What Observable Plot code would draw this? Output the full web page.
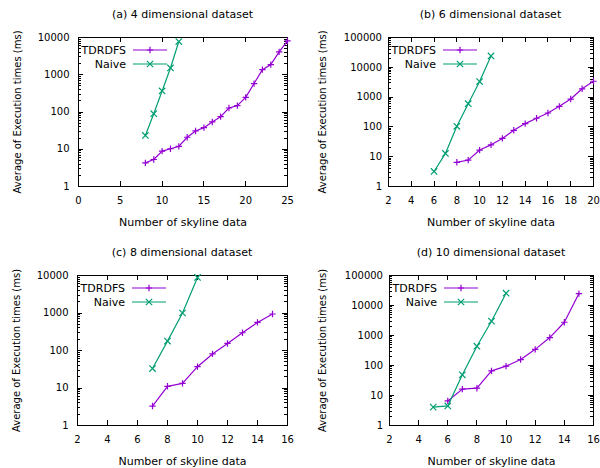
<!DOCTYPE html>
<html><head><meta charset="utf-8">
<script src="https://cdn.jsdelivr.net/npm/d3@7"></script>
<script src="https://cdn.jsdelivr.net/npm/@observablehq/plot@0.6"></script>
<style>
body{margin:0;background:#fff;font-family:"DejaVu Sans",sans-serif;color:#000;}
#grid{display:grid;grid-template-columns:300px 300px;width:600px;}
.cell{position:relative;width:300px;overflow:hidden;}
.row2{margin-top:4px;}
.title{font-size:11px;text-align:center;padding-top:4px;line-height:22px;height:22px;white-space:nowrap;}
</style></head><body><div id="grid"></div>
<script>
// ---- data ----
const seriesNames = ["TDRDFS", "Naive"];
const seriesColors = ["#9400d3", "#009e73"];

// (a) 4 dimensional dataset
const a_tdrdfs_x = [8,9,10,11,12,13,14,15,16,17,18,19,20,21,22,23,24,25];
const a_tdrdfs_y = [4.3,5.3,8.9,10.3,11.9,21,31,38,54,75,128,148,247,580,1370,1870,4100,8100];
const a_naive_x = [8,9,10,11,12];
const a_naive_y = [23.5,90,367,1520,7800];

// (b) 6 dimensional dataset
const b_tdrdfs_x = [8,9,10,11,12,13,14,15,16,17,18,19,20];
const b_tdrdfs_y = [6.5,7.7,16.7,25,41,77,129,195,293,490,860,1900,3400];
const b_naive_x = [6,7,8,9,10,11];
const b_naive_y = [3.2,12.9,105,600,3330,24000];

// (c) 8 dimensional dataset
const c_tdrdfs_x = [7,8,9,10,11,12,13,14,15];
const c_tdrdfs_y = [3.3,11.1,13.3,37,81,154,297,560,940];
const c_naive_x = [7,8,9,10];
const c_naive_y = [33,178,1000,8900];

// (d) 10 dimensional dataset
const d_tdrdfs_x = [6,7,8,9,10,11,12,13,14,15];
const d_tdrdfs_y = [6.6,16.3,17.5,66,95,158,345,855,2770,25000];
const d_naive_x = [5,6,7,8,9,10];
const d_naive_y = [4.1,4.5,49,440,3000,25700];

const titles = ["(a) 4 dimensional dataset","(b) 6 dimensional dataset","(c) 8 dimensional dataset","(d) 10 dimensional dataset"];
const xDomains = [[0,25],[2,20],[2,16],[2,16]];
const xTickLists = [[0,5,10,15,20,25],[2,4,6,8,10,12,14,16,18,20],[2,4,6,8,10,12,14,16],[2,4,6,8,10,12,14,16]];
const yMaxes = [10000,100000,10000,100000];
const xLabel = "Number of skyline data";
const yLabel = "Average of Execution times (ms)";

// ---- helpers ----
function toRows(xs, ys, name){ return xs.map((x,i)=>({x, y: ys[i], series: name})); }

function gnuFrame(xTicks, yMajor, yMinor){
  return (index, scales, values, dims) => {
    const {x, y} = scales;
    const x0 = dims.marginLeft, x1 = dims.width - dims.marginRight;
    const y0 = dims.marginTop, y1 = dims.height - dims.marginBottom;
    const g = d3.create("svg:g").attr("fill","none").attr("stroke","#000").attr("stroke-width",1);
    let p = "";
    for (const t of xTicks){ const X = Math.round(x(t))+0.5; p += `M${X},${y1}v-5M${X},${y0}v5`; }
    for (const t of yMajor){ const Y = Math.round(y(t))+0.5; p += `M${x0},${Y}h5M${x1},${Y}h-5`; }
    for (const t of yMinor){ const Y = Math.round(y(t))+0.5; p += `M${x0},${Y}h3M${x1},${Y}h-3`; }
    g.append("path").attr("d", p);
    g.append("rect").attr("x", Math.round(x0)+0.5).attr("y", Math.round(y0)+0.5)
      .attr("width", Math.round(x1)-Math.round(x0)).attr("height", Math.round(y1)-Math.round(y0));
    return g.node();
  };
}

function legendMark(){
  return (index, scales, values, dims) => {
    const g = d3.create("svg:g").attr("font-size","11px");
    const syms = [d3.symbol(d3.symbolPlus, Math.PI*2.2*2.2), d3.symbol(d3.symbolTimes, Math.PI*3*3)];
    seriesNames.forEach((name, i) => {
      const yy = dims.marginTop + 13 + i*14;
      const xl = dims.marginLeft;
      g.append("text").attr("x", xl+48).attr("y", yy).attr("dy","0.35em")
        .attr("text-anchor","end").attr("fill","#000").text(name);
      g.append("line").attr("x1", xl+55).attr("x2", xl+89).attr("y1", yy).attr("y2", yy)
        .attr("stroke", seriesColors[i]).attr("stroke-width", 1.2);
      g.append("path").attr("transform", `translate(${xl+72},${yy})`).attr("d", syms[i]())
        .attr("stroke", seriesColors[i]).attr("fill","none").attr("stroke-width",1.2);
    });
    return g.node();
  };
}

const panels = [
  {t: toRows(a_tdrdfs_x,a_tdrdfs_y,"TDRDFS"), n: toRows(a_naive_x,a_naive_y,"Naive")},
  {t: toRows(b_tdrdfs_x,b_tdrdfs_y,"TDRDFS"), n: toRows(b_naive_x,b_naive_y,"Naive")},
  {t: toRows(c_tdrdfs_x,c_tdrdfs_y,"TDRDFS"), n: toRows(c_naive_x,c_naive_y,"Naive")},
  {t: toRows(d_tdrdfs_x,d_tdrdfs_y,"TDRDFS"), n: toRows(d_naive_x,d_naive_y,"Naive")}
];

const layout = [
  {ml:78, mr:13, mt:11, mb:48, h:208, ypad:9, ylo:65},
  {ml:88, mr:7,  mt:11, mb:48, h:208, ypad:6.5, ylo:70},
  {ml:77, mr:13, mt:11, mb:43, h:204, ypad:9, ylo:65},
  {ml:89, mr:7,  mt:11, mb:43, h:204, ypad:6.5, ylo:71}
];

const grid = document.getElementById("grid");
panels.forEach((pd, k) => {
  const L = layout[k];
  const yMajor = []; const yMinor = [];
  for (let d = 1; d <= yMaxes[k]; d *= 10){ yMajor.push(d); if (d < yMaxes[k]) for (let m = 2; m <= 9; m++) yMinor.push(d*m); }
  const cell = document.createElement("div");
  cell.className = "cell" + (k >= 2 ? " row2" : "");
  const title = document.createElement("div");
  title.className = "title";
  title.style.paddingLeft = L.ml + "px";
  title.style.width = (300 - L.ml - L.mr) + "px";
  title.textContent = titles[k];
  cell.appendChild(title);
  const chart = Plot.plot({
    width: 300, height: L.h,
    marginLeft: L.ml, marginRight: L.mr, marginTop: L.mt, marginBottom: L.mb,
    style: {fontFamily: "DejaVu Sans", fontSize: "10px", color: "#000", background: "white"},
    x: {domain: xDomains[k]},
    y: {type: "log", domain: [1, yMaxes[k]]},
    marks: [
      Plot.axisX({ticks: xTickLists[k], tickSize: 0, tickPadding: 10, tickFormat: d => String(d),
        label: null}),
      Plot.axisX({ticks: [], tickSize: 0, label: xLabel, labelAnchor: "center", labelArrow: "none", labelOffset: 39, fontSize: 11}),
      Plot.axisY({ticks: yMajor, tickSize: 0, tickPadding: L.ypad, tickFormat: d => String(d), label: null}),
      Plot.axisY({ticks: [], tickSize: 0, label: yLabel, labelAnchor: "center", labelArrow: "none", labelOffset: L.ylo, fontSize: 10}),
      gnuFrame(xTickLists[k], yMajor, yMinor),
      Plot.line(pd.t, {x: "x", y: "y", stroke: seriesColors[0], strokeWidth: 1.2}),
      Plot.dot(pd.t, {x: "x", y: "y", symbol: "plus", r: 2.2, stroke: seriesColors[0], strokeWidth: 1.2}),
      Plot.line(pd.n, {x: "x", y: "y", stroke: seriesColors[1], strokeWidth: 1.2}),
      Plot.dot(pd.n, {x: "x", y: "y", symbol: "times", r: 3, stroke: seriesColors[1], strokeWidth: 1.2}),
      legendMark()
    ]
  });
  cell.appendChild(chart);
  grid.appendChild(cell);
});
</script>
</body></html>
